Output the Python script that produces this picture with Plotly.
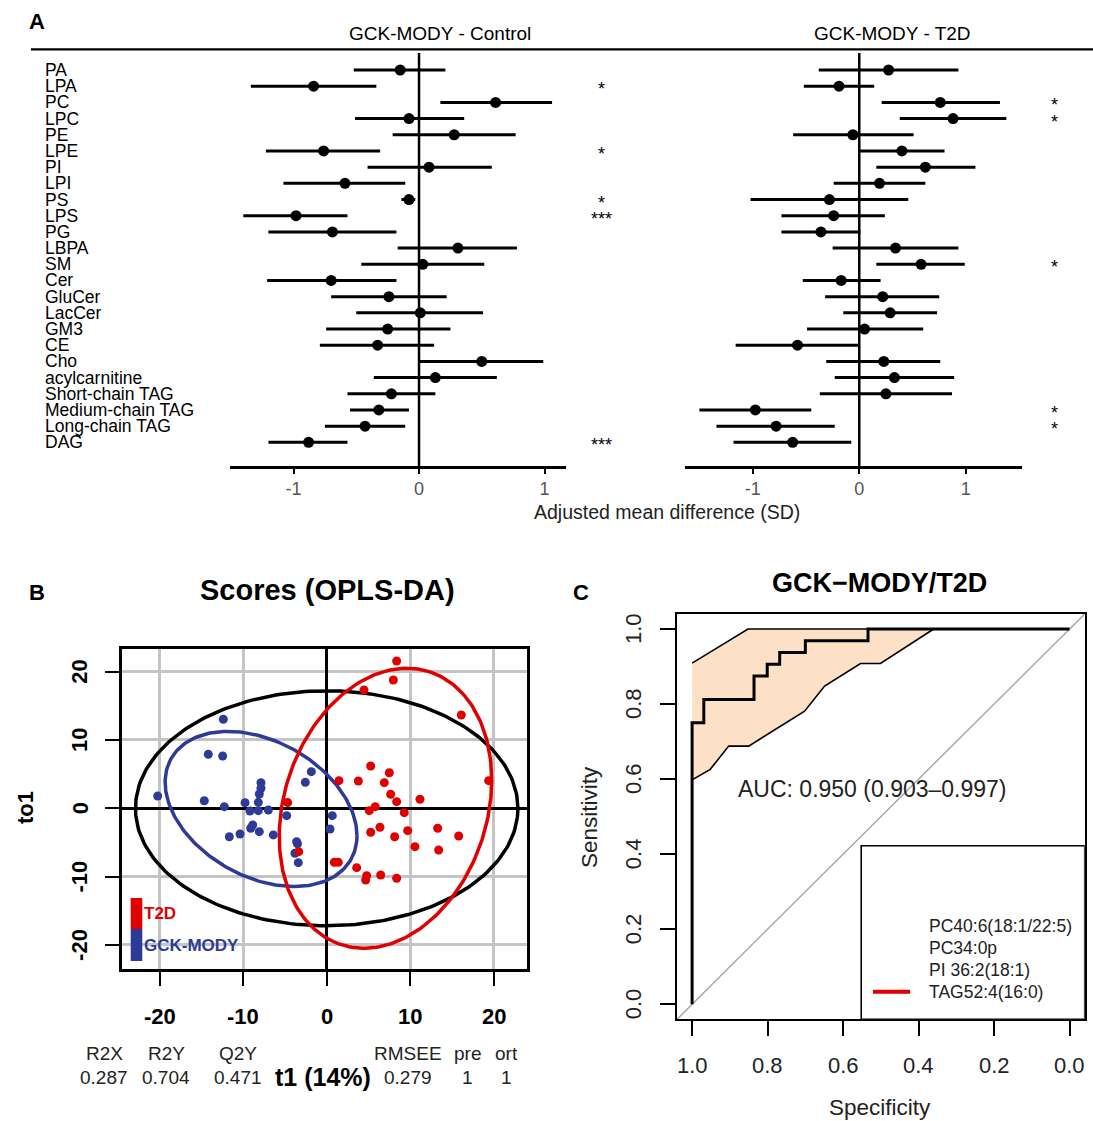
import numpy as np
import plotly.graph_objects as go

W, H = 1093, 1121
FONT = "Liberation Sans"

# ---------------- Panel A data ----------------
lipid_classes = ["PA", "LPA", "PC", "LPC", "PE", "LPE", "PI", "LPI", "PS", "LPS", "PG", "LBPA",
                 "SM", "Cer", "GluCer", "LacCer", "GM3", "CE", "Cho", "acylcarnitine",
                 "Short-chain TAG", "Medium-chain TAG", "Long-chain TAG", "DAG"]
ctrl_est = [-0.15, -0.84, 0.61, -0.08, 0.28, -0.76, 0.08, -0.59, -0.08, -0.98, -0.69, 0.31,
            0.03, -0.70, -0.24, 0.01, -0.25, -0.33, 0.50, 0.13, -0.22, -0.32, -0.43, -0.88]
ctrl_lo = [-0.52, -1.34, 0.17, -0.51, -0.21, -1.22, -0.41, -1.08, -0.14, -1.40, -1.20, -0.17,
           -0.46, -1.21, -0.70, -0.50, -0.74, -0.79, 0.00, -0.36, -0.57, -0.55, -0.75, -1.20]
ctrl_hi = [0.21, -0.34, 1.06, 0.36, 0.77, -0.31, 0.58, -0.11, -0.03, -0.57, -0.18, 0.78,
           0.52, -0.18, 0.22, 0.51, 0.25, 0.12, 0.99, 0.62, 0.13, -0.08, -0.11, -0.57]
ctrl_sig = ["", "*", "", "", "", "*", "", "", "*", "***", "", "", "", "", "", "", "", "", "", "",
            "", "", "", "***"]

t2d_est = [0.275, -0.19, 0.76, 0.88, -0.06, 0.40, 0.62, 0.19, -0.28, -0.24, -0.36, 0.34,
           0.58, -0.17, 0.22, 0.29, 0.05, -0.58, 0.23, 0.33, 0.25, -0.975, -0.78, -0.625]
t2d_lo = [-0.38, -0.52, 0.21, 0.38, -0.62, 0.00, 0.16, -0.24, -1.02, -0.73, -0.73, -0.25,
          0.16, -0.53, -0.32, -0.15, -0.49, -1.16, -0.31, -0.23, -0.37, -1.50, -1.34, -1.18]
t2d_hi = [0.93, 0.14, 1.32, 1.38, 0.51, 0.80, 1.09, 0.62, 0.46, 0.24, 0.01, 0.93,
          0.99, 0.20, 0.75, 0.73, 0.60, -0.01, 0.76, 0.89, 0.87, -0.45, -0.23, -0.075]
t2d_sig = ["", "", "*", "*", "", "", "", "", "", "", "", "", "*", "", "", "", "", "", "", "",
           "", "*", "*", ""]
forest_ticks = [-1, 0, 1]

# ---------------- Panel B data ----------------
mody_t1 = [-12.38, -14.18, -12.46, -20.24, -14.66, -12.26, -9.78, -7.87, -7.87, -8.07, -8.19,
           -9.19, -8.19, -6.99, -8.86, -9.10, -8.07, -10.38, -11.66, -6.39, -4.79, -2.56, -1.84,
           0.67, 0.40, -3.60, -3.80, -3.40, -3.50]
mody_to1 = [13.03, 7.90, 7.66, 1.80, 1.10, 0.24, 0.82, 3.75, 2.93, 2.09, 0.87,
            -0.40, -0.35, -0.25, -2.44, -2.93, -3.42, -3.76, -4.16, -3.90, -1.08, 3.80, 5.36,
            -1.08, -3.03, -4.89, -6.59, -7.96, -5.20]
t2d_t1 = [8.38, 7.98, 4.47, 16.12, 19.40, 1.47, 3.79, 5.27, 7.50, 6.90, 7.66, 8.38, 11.17,
          5.82, 5.10, 9.29, -4.67, 6.38, 5.27, 9.70, 8.14, 13.29, 15.81, 10.57, 13.41, -3.35,
          0.91, 1.39, 3.59, 4.79, 4.67, 6.47, 8.38]
t2d_to1 = [21.57, 18.78, 17.32, 13.66, 4.04, 4.04, 3.99, 6.19, 5.21, 3.75, 2.05, 0.97, 1.32,
           0.24, -0.35, -0.64, 0.83, -2.78, -3.51, -3.28, -4.16, -2.93, -4.06, -5.62, -6.11, -6.35,
           -7.91, -7.91, -8.69, -9.86, -10.50, -9.77, -10.25]
# ellipses: centre and covariance (t1, to1)
all_centre, all_cov = [0.0, 0.0], [[22.9 ** 2, 0.0], [0.0, 17.2 ** 2]]
mody_centre, mody_cov = [-7.86, -0.10], [[132.0, -45.0], [-45.0, 129.0]]
t2d_centre, t2d_cov = [7.04, 0.0], [[161.8, 52.7], [52.7, 420.0]]
score_ticks = [-20, -10, 0, 10, 20]
model_stats_names = ["R2X", "R2Y", "Q2Y", "RMSEE", "pre", "ort"]
model_stats_values = ["0.287", "0.704", "0.471", "0.279", "1", "1"]

# ---------------- Panel C data ----------------
roc_spec = [1.0, 1.0, 0.969, 0.836, 0.801, 0.768, 0.700, 0.534, 0.0]
roc_sens = [0.0, 0.75, 0.8125, 0.875, 0.906, 0.9375, 0.969, 1.0, 1.0]
ci_upper_spec = [1.0, 0.852, 0.360]
ci_upper_sens = [0.909, 1.0, 1.0]
ci_lower_spec = [1.0, 0.952, 0.903, 0.850, 0.702, 0.649, 0.554, 0.501, 0.360]
ci_lower_sens = [0.598, 0.626, 0.688, 0.688, 0.781, 0.848, 0.908, 0.908, 1.0]
roc_ticks = [0.0, 0.2, 0.4, 0.6, 0.8, 1.0]
roc_legend = ["PC40:6(18:1/22:5)", "PC34:0p", "PI 36:2(18:1)", "TAG52:4(16:0)"]


def px(x):
    return x / W


def py(y):
    return 1 - y / H


def ellipse(centre, cov, n=240):
    L = np.linalg.cholesky(np.array(cov))
    th = np.linspace(0, 2 * np.pi, n)
    pts = L @ np.vstack([np.cos(th), np.sin(th)])
    return centre[0] + pts[0], centre[1] + pts[1]


fig = go.Figure()
ann = []
shapes = []

# ======================= Panel A =======================
rows = list(range(len(lipid_classes)))
for xa, ya, est, lo, hi in [("x", "y", ctrl_est, ctrl_lo, ctrl_hi),
                            ("x2", "y2", t2d_est, t2d_lo, t2d_hi)]:
    e, l, h = np.array(est), np.array(lo), np.array(hi)
    fig.add_trace(go.Scatter(
        x=e, y=rows, mode="markers", xaxis=xa, yaxis=ya,
        marker=dict(color="black", size=11),
        error_x=dict(type="data", symmetric=False, array=h - e, arrayminus=e - l,
                     color="black", thickness=3, width=0),
        showlegend=False, hoverinfo="skip"))
    shapes.append(dict(type="line", xref=xa, yref=ya + " domain", x0=0, x1=0, y0=0, y1=1,
                       line=dict(color="black", width=2.5)))

for i, name in enumerate(lipid_classes):
    ann.append(dict(x=px(43), xref="paper", y=i, yref="y", text=name,
                    xanchor="left", font=dict(size=17.5, color="black")))
    if ctrl_sig[i]:
        ann.append(dict(x=px(601), xref="paper", y=i, yref="y", text=ctrl_sig[i],
                        yshift=-3, font=dict(size=18, color="black")))
    if t2d_sig[i]:
        ann.append(dict(x=px(1054), xref="paper", y=i, yref="y", text=t2d_sig[i],
                        yshift=-3, font=dict(size=18, color="black")))

ann += [
    dict(x=px(37), y=py(22), xref="paper", yref="paper", text="<b>A</b>",
         font=dict(size=22, color="black")),
    dict(x=px(440), y=py(33), xref="paper", yref="paper", text="GCK-MODY - Control",
         font=dict(size=19, color="black")),
    dict(x=px(892), y=py(33), xref="paper", yref="paper", text="GCK-MODY - T2D",
         font=dict(size=19, color="black")),
    dict(x=px(667), y=py(512), xref="paper", yref="paper", text="Adjusted mean difference (SD)",
         font=dict(size=19.5, color="#222")),
]
shapes.append(dict(type="line", xref="paper", yref="paper", x0=px(31), x1=1, y0=py(49.3), y1=py(49.3),
                   line=dict(color="black", width=2.2)))

# ======================= Panel B =======================
for c, cov, col in [(all_centre, all_cov, "black"), (mody_centre, mody_cov, "#2D3B96"),
                    (t2d_centre, t2d_cov, "#E00000")]:
    ex, ey = ellipse(c, cov)
    fig.add_trace(go.Scatter(x=ex, y=ey, mode="lines", xaxis="x3", yaxis="y3",
                             line=dict(color=col, width=3.5), showlegend=False, hoverinfo="skip"))
fig.add_trace(go.Scatter(x=mody_t1, y=mody_to1, mode="markers", xaxis="x3", yaxis="y3",
                         marker=dict(color="#2D3B96", size=9), showlegend=False, hoverinfo="skip"))
fig.add_trace(go.Scatter(x=t2d_t1, y=t2d_to1, mode="markers", xaxis="x3", yaxis="y3",
                         marker=dict(color="#E00000", size=9), showlegend=False, hoverinfo="skip"))

for v in score_ticks:
    ann.append(dict(x=v, xref="x3", y=py(1016), yref="paper", text="<b>%d</b>" % v,
                    font=dict(size=22, color="black")))
    ann.append(dict(x=px(80), xref="paper", y=v, yref="y3", text="<b>%d</b>" % v,
                    textangle=-90, font=dict(size=22, color="black")))

ann += [
    dict(x=px(37), y=py(592), xref="paper", yref="paper", text="<b>B</b>",
         font=dict(size=22, color="black")),
    dict(x=px(327), y=py(590), xref="paper", yref="paper", text="<b>Scores (OPLS-DA)</b>",
         font=dict(size=29, color="black")),
    dict(x=px(25), y=py(808), xref="paper", yref="paper", text="<b>to1</b>",
         textangle=-90, font=dict(size=22, color="black")),
    dict(x=px(142), y=py(913), xref="paper", yref="paper", text="<b>T2D</b>",
         xanchor="left", font=dict(size=17, color="#E00000")),
    dict(x=px(142), y=py(945), xref="paper", yref="paper", text="<b>GCK-MODY</b>",
         xanchor="left", font=dict(size=17, color="#2D3B96")),
    dict(x=px(323), y=py(1077), xref="paper", yref="paper", text="<b>t1 (14%)</b>",
         font=dict(size=25, color="black")),
]
stat_x = [104, 166, 238, 408, 467, 506]
for xname, nm, val in zip(stat_x, model_stats_names, model_stats_values):
    ann.append(dict(x=px(xname), y=py(1053), xref="paper", yref="paper", text=nm,
                    font=dict(size=19, color="#222")))
    ann.append(dict(x=px(xname), y=py(1077), xref="paper", yref="paper", text=val,
                    font=dict(size=19, color="#222")))
shapes += [
    dict(type="rect", xref="paper", yref="paper", x0=px(130.7), x1=px(142.3), y0=py(929), y1=py(898),
         line=dict(width=0), fillcolor="#E00000"),
    dict(type="rect", xref="paper", yref="paper", x0=px(130.7), x1=px(142.3), y0=py(961), y1=py(929),
         line=dict(width=0), fillcolor="#2D3B96"),
]

# ======================= Panel C =======================
band_x = ci_upper_spec + ci_lower_spec[::-1]
band_y = ci_upper_sens + ci_lower_sens[::-1]
fig.add_trace(go.Scatter(x=band_x, y=band_y, mode="lines", fill="toself", fillcolor="#FDE1C6",
                         line=dict(color="black", width=1.6), xaxis="x4", yaxis="y4",
                         showlegend=False, hoverinfo="skip"))
fig.add_trace(go.Scatter(x=[1.04, -0.04], y=[-0.04, 1.04], mode="lines", xaxis="x4", yaxis="y4",
                         line=dict(color="#A8A8A8", width=1.5), showlegend=False, hoverinfo="skip"))
fig.add_trace(go.Scatter(x=roc_spec, y=roc_sens, mode="lines", line_shape="hv", xaxis="x4", yaxis="y4",
                         line=dict(color="black", width=3), showlegend=False, hoverinfo="skip"))

for v in roc_ticks:
    ann.append(dict(x=v, xref="x4", y=py(1065), yref="paper", text="%.1f" % v,
                    font=dict(size=22, color="#222")))
    ann.append(dict(x=px(633), xref="paper", y=v, yref="y4", text="%.1f" % v,
                    textangle=-90, font=dict(size=22, color="#222")))

ann += [
    dict(x=px(581), y=py(592), xref="paper", yref="paper", text="<b>C</b>",
         font=dict(size=22, color="black")),
    dict(x=px(880), y=py(583), xref="paper", yref="paper", text="<b>GCK\u2212MODY/T2D</b>",
         font=dict(size=27, color="black")),
    dict(x=px(590), y=py(817), xref="paper", yref="paper", text="Sensitivity",
         textangle=-90, font=dict(size=22.5, color="#222")),
    dict(x=px(880), y=py(1107), xref="paper", yref="paper", text="Specificity",
         font=dict(size=22.5, color="#222")),
    dict(x=0.523, xref="x4", y=0.574, yref="y4", text="AUC: 0.950 (0.903\u20130.997)",
         font=dict(size=23, color="#222")),
]
shapes.append(dict(type="rect", xref="x4", yref="y4", x0=0.552, x1=-0.04, y0=-0.04, y1=0.4226,
                   line=dict(color="black", width=1.6), fillcolor="white", layer="above"))
leg_y = [926, 948, 969.5, 991.7]
for t, yy in zip(roc_legend, leg_y):
    ann.append(dict(x=px(926.5), y=py(yy), xref="paper", yref="paper", text=t,
                    xanchor="left", font=dict(size=17.5, color="#222")))
shapes.append(dict(type="line", xref="paper", yref="paper", x0=px(873), x1=px(910),
                   y0=py(991.7), y1=py(991.7), line=dict(color="#E00000", width=4), layer="above"))

for a in ann:
    a.setdefault("showarrow", False)
    a.setdefault("xanchor", "center")
    a.setdefault("yanchor", "middle")

# ======================= Axes =======================
rows_range = [24.46, -1.05]
a_ydom = [py(466), py(53)]
axis_forest = dict(showgrid=False, zeroline=False, showline=True, linecolor="black", linewidth=2.5,
                   ticks="outside", ticklen=5, tickwidth=1.5, tickcolor="black",
                   tickvals=forest_ticks, ticktext=[str(v) for v in forest_ticks],
                   tickfont=dict(size=18, color="#555"))
boxB = dict(showline=True, mirror=True, linecolor="black", linewidth=3, ticks="outside", ticklen=14,
            tickwidth=2, tickcolor="black", tickvals=score_ticks, showticklabels=False,
            showgrid=True, gridcolor="#C4C4C4", gridwidth=3,
            zeroline=True, zerolinecolor="black", zerolinewidth=2.5)
boxC = dict(showline=True, mirror=True, linecolor="black", linewidth=2, ticks="outside", ticklen=15,
            tickwidth=2, tickcolor="black", tickvals=roc_ticks, showticklabels=False,
            showgrid=False, zeroline=False)

fig.update_layout(
    width=W, height=H, margin=dict(l=0, r=0, t=0, b=0),
    paper_bgcolor="white", plot_bgcolor="white",
    font=dict(family=FONT, color="black"),
    showlegend=False,
    xaxis=dict(domain=[px(230), px(566)], range=[-1.506, 1.171], anchor="y", **axis_forest),
    yaxis=dict(domain=a_ydom, range=rows_range, visible=False, anchor="x"),
    xaxis2=dict(domain=[px(685), px(1021.7)], range=[-1.635, 1.524], anchor="y2", **axis_forest),
    yaxis2=dict(domain=a_ydom, range=rows_range, visible=False, anchor="x2"),
    xaxis3=dict(domain=[px(121.7), px(527)], range=[-24.55, 23.99], anchor="y3", **boxB),
    yaxis3=dict(domain=[py(969), py(649)], range=[-23.53, 23.32], anchor="x3", **boxB),
    xaxis4=dict(domain=[px(677), px(1084.7)], range=[1.04, -0.04], anchor="y4", **boxC),
    yaxis4=dict(domain=[py(1019.3), py(614)], range=[-0.04, 1.04], anchor="x4", **boxC),
    annotations=ann,
    shapes=shapes,
)

fig.write_html("out.html", config={"displayModeBar": False},
               post_script="document.body.style.margin='0px';")
